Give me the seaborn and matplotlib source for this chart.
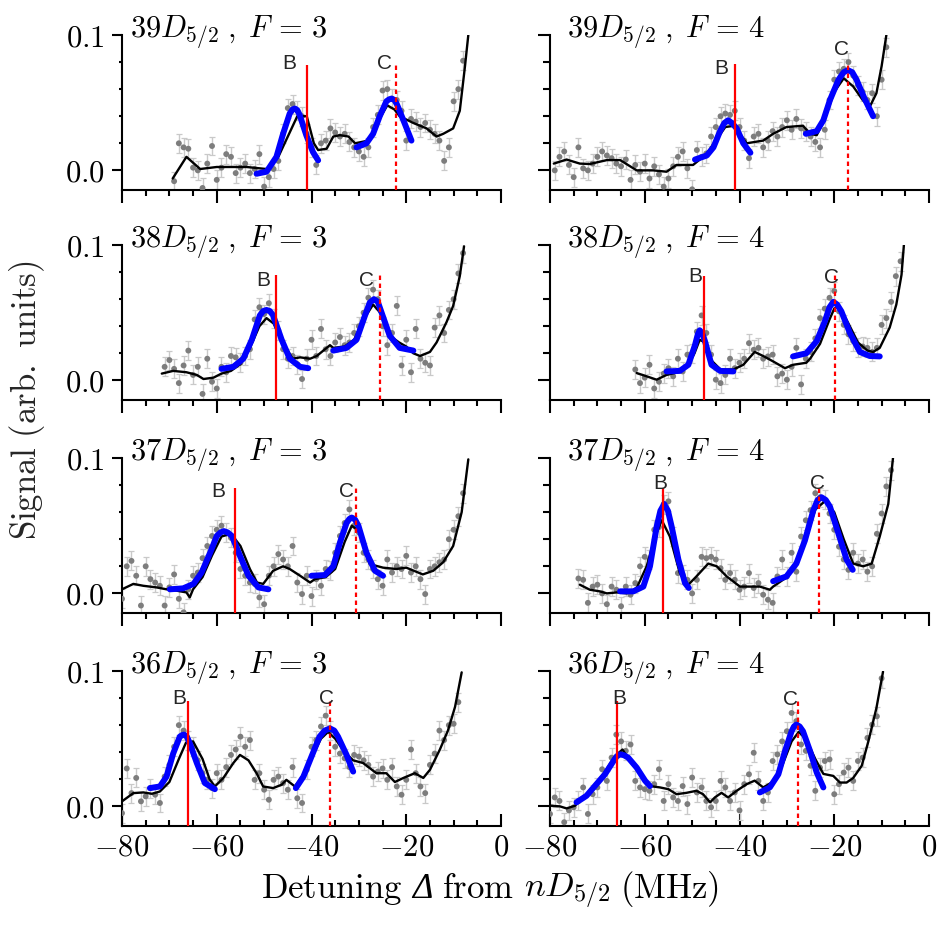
import matplotlib
matplotlib.use("Agg")
import matplotlib.pyplot as plt
import seaborn as sns
from matplotlib.ticker import MultipleLocator, FixedLocator, FuncFormatter
from matplotlib.offsetbox import TextArea, HPacker, AnnotationBbox

# ---------------- data ----------------
N_LEVELS = [39, 38, 37, 36]
F_LEVELS = [3, 4]

# 39D5/2 F=3
s39_3_x = [-69,-68,-67,-66,-65,-64,-63,-62,-61,-60,-59,-58,-57,-56,-55,-54,-53,-52,-51,-50,-49,-48,-47,-46,-45,-44,-43,-42,-41,-40,-39,-38,-37,-36,-35,-34,-33,-32,-31,-30,-29,-28,-27,-26,-25,-24,-23,-22,-21,-20,-19,-18,-17,-16,-15,-14,-13,-12,-11,-10,-9,-8]
s39_3_y = [-0.008,0.020,0.017,0.016,0.002,0.000,-0.013,0.005,0.018,-0.007,0.002,0.012,0.010,-0.002,0.002,0.005,-0.002,0.001,0.012,-0.012,-0.005,0.001,0.007,0.027,0.046,0.049,0.044,0.040,0.027,0.017,0.004,0.020,0.022,0.031,0.028,0.025,0.027,0.021,0.017,0.014,0.010,0.017,0.032,0.041,0.059,0.060,0.053,0.052,0.044,0.022,0.038,0.036,0.032,0.035,0.030,0.027,0.022,0.007,0.017,0.051,0.060,0.081]
l39_3_x = [-69.3,-66.4,-63.5,-60,-56.5,-53.7,-49.5,-47,-45,-43,-41,-39.5,-38.6,-36.8,-35.4,-34,-32.2,-30.8,-28,-26,-24,-22.5,-21.4,-18.5,-15.7,-13.6,-12.2,-10.1,-8.7,-7.6,-6.9]
l39_3_y = [-0.006,0.010,0.001,0.0025,0.0025,0.0025,0.001,0.010,0.025,0.040,0.040,0.020,0.015,0.016,0.025,0.026,0.025,0.020,0.022,0.036,0.048,0.045,0.040,0.035,0.031,0.025,0.027,0.031,0.044,0.077,0.100]
b39_3_x = [-51.6,-49.5,-47.4,-46.0,-44.6,-44.0,-43.5,-43.0,-42.5,-41.1,-39.7,-38.6]
b39_3_y = [-0.0025,-0.001,0.010,0.027,0.042,0.045,0.0457,0.0445,0.041,0.026,0.0136,0.0074]
c39_3_x = [-30.5,-28.4,-27.0,-25.6,-24.2,-23.6,-23.1,-22.5,-22.0,-20.6,-18.9]
c39_3_y = [0.017,0.020,0.027,0.040,0.051,0.0525,0.053,0.052,0.049,0.037,0.022]

# 39D5/2 F=4
s39_4_x = [-79,-78,-77,-76,-75,-74,-73,-72,-71,-70,-69,-68,-67,-66,-65,-64,-63,-62,-61,-60,-59,-58,-57,-56,-55,-54,-53,-52,-51,-50,-49,-48,-47,-46,-45,-44,-43,-42,-41,-40,-39,-38,-37,-36,-35,-34,-33,-32,-31,-30,-29,-28,-27,-26,-25,-24,-23,-22,-21,-20,-19,-18,-17,-16,-15,-14,-13,-12,-11,-10,-9]
s39_4_y = [0.0,0.010,0.014,0.004,-0.005,0.017,0.0015,0.0,0.005,0.010,0.014,0.011,0.009,0.005,0.003,0.008,-0.007,0.004,-0.001,0.005,-0.006,0.003,-0.003,-0.012,-0.006,0.003,0.010,0.014,0.0015,-0.014,0.015,0.010,0.0125,0.025,0.032,0.040,0.042,0.041,0.044,0.032,0.022,0.009,0.025,0.027,0.017,0.022,0.029,0.025,0.032,0.037,0.030,0.038,0.031,0.029,0.025,0.021,0.017,0.030,0.052,0.067,0.073,0.075,0.080,0.070,0.063,0.058,0.052,0.057,0.040,0.067,0.091]
l39_4_x = [-79.2,-76.5,-73.7,-71.6,-68.0,-65.2,-61.7,-58.2,-55.4,-53.3,-49.8,-47,-45,-43,-41,-39.5,-38.5,-35.0,-32.9,-30.1,-26.6,-25.1,-23.7,-22,-20,-18,-16,-14,-12.5,-11.1,-10.0,-9.0]
l39_4_y = [0.005,0.008,0.005,0.0047,0.0076,0.0076,0.0,0.0,-0.001,0.004,0.004,0.012,0.022,0.032,0.033,0.025,0.020,0.022,0.027,0.032,0.033,0.027,0.026,0.038,0.058,0.068,0.062,0.052,0.047,0.057,0.077,0.100]
b39_4_x = [-49.4,-46.9,-45.5,-44.1,-43.2,-42.4,-41.6,-40.6,-39.2,-37.7]
b39_4_y = [0.008,0.011,0.017,0.029,0.035,0.037,0.035,0.031,0.020,0.013]
c39_4_x = [-26.0,-23.7,-22.3,-20.9,-19.1,-18.0,-17.1,-16.2,-15.3,-13.6,-11.8]
c39_4_y = [0.027,0.029,0.037,0.052,0.067,0.0725,0.074,0.0725,0.067,0.053,0.040]

# 38D5/2 F=3
s38_3_x = [-71,-70,-69,-68,-67,-66,-65,-64,-63,-62,-61,-60,-59,-58,-57,-56,-55,-54,-53,-52,-51,-50,-49,-48,-47,-46,-45,-44,-43,-42,-41,-40,-39,-38,-37,-36,-35,-34,-33,-32,-31,-30,-29,-28,-27,-26,-25,-24,-23,-22,-21,-20,-19,-18,-17,-16,-15,-14,-13,-12,-11,-10,-9,-8]
s38_3_y = [0.010,0.015,0.0085,-0.002,0.011,0.022,0.004,0.010,-0.010,0.016,-0.001,-0.006,0.010,0.006,0.018,0.017,0.013,0.018,0.023,0.045,0.054,0.049,0.057,0.046,0.037,0.023,0.016,0.018,0.012,0.001,0.016,0.030,0.018,0.038,0.023,0.018,0.028,0.032,0.026,0.028,0.035,0.040,0.050,0.061,0.067,0.060,0.040,0.026,0.035,0.055,0.011,0.030,0.006,0.038,0.016,0.013,0.011,0.039,0.048,0.035,0.052,0.060,0.079,0.094]
l38_3_x = [-71.6,-69.2,-66.4,-64.2,-62.8,-60.7,-59.0,-57,-55,-53,-51,-49.5,-48,-46,-44,-42.4,-40.3,-38.9,-37.5,-36.1,-35.4,-33,-31,-29,-27,-25,-23.5,-21.5,-20,-18.5,-17.1,-15.0,-13.6,-11.5,-10.1,-8.7,-7.8]
l38_3_y = [0.005,0.007,0.006,0.004,0.001,0.002,0.005,0.007,0.012,0.024,0.040,0.046,0.042,0.028,0.016,0.017,0.016,0.018,0.022,0.026,0.024,0.025,0.030,0.045,0.056,0.048,0.033,0.028,0.025,0.020,0.018,0.021,0.028,0.043,0.055,0.077,0.099]
b38_3_x = [-59.0,-56.5,-54.4,-52.6,-50.9,-50.2,-49.5,-48.8,-48.1,-46.3,-44.6,-42.4,-40.7]
b38_3_y = [0.0085,0.010,0.016,0.030,0.048,0.0512,0.052,0.0512,0.048,0.030,0.016,0.010,0.009]
c38_3_x = [-35.4,-32.6,-30.5,-28.7,-27.7,-26.8,-26.0,-25.2,-23.5,-21.4,-18.5]
c38_3_y = [0.022,0.024,0.030,0.048,0.0575,0.060,0.058,0.050,0.033,0.024,0.022]

# 38D5/2 F=4
s38_4_x = [-62,-61,-60,-59,-58,-57,-56,-55,-54,-53,-52,-51,-50,-49,-48,-47,-46,-45,-44,-43,-42,-41,-40,-39,-38,-37,-36,-35,-34,-33,-32,-31,-30,-29,-28,-27,-26,-25,-24,-23,-22,-21,-20,-19,-18,-17,-16,-15,-14,-13,-12,-11,-10,-9,-8,-7,-6]
s38_4_y = [0.008,-0.002,0.002,0.0115,-0.006,-0.001,0.005,0.009,0.003,0.016,0.0066,0.019,0.020,0.036,0.048,0.035,0.019,0.0005,-0.002,0.004,0.016,0.009,0.013,0.016,0.0275,0.0226,0.024,0.016,0.0177,0.019,0.003,0.005,0.0005,0.010,0.024,-0.003,0.016,0.021,0.031,0.046,0.053,0.061,0.066,0.051,0.041,0.034,0.029,0.024,0.025,0.024,0.021,0.024,0.041,0.046,0.058,0.077,0.088]
l38_4_x = [-61.7,-59.6,-57.5,-55.4,-53,-51,-49.5,-48.4,-47.3,-46,-44,-41.3,-39.2,-36.8,-35.0,-32.9,-30.4,-28.7,-25.9,-25.1,-23,-21,-20,-19,-17,-15,-13,-11.8,-10.4,-8.3,-6.9,-5.8,-5.3]
l38_4_y = [0.0054,0.003,0.0005,0.004,0.006,0.010,0.020,0.030,0.028,0.015,0.008,0.008,0.0115,0.021,0.018,0.014,0.009,0.0115,0.013,0.016,0.027,0.045,0.053,0.055,0.042,0.028,0.022,0.021,0.024,0.039,0.056,0.078,0.100]
b38_4_x = [-55.4,-52.6,-50.8,-49.4,-48.8,-48.4,-47.9,-47.3,-45.9,-44.1,-41.3]
b38_4_y = [0.0066,0.007,0.0115,0.026,0.034,0.037,0.035,0.029,0.0115,0.007,0.0066]
c38_4_x = [-28.7,-25.9,-23.7,-22.0,-21.0,-20.2,-19.4,-18.5,-16.7,-14.6,-12.5,-10.4]
c38_4_y = [0.0177,0.020,0.029,0.0435,0.054,0.058,0.056,0.051,0.035,0.021,0.018,0.0177]

# 37D5/2 F=3
s37_3_x = [-80,-79,-78,-77,-76,-75,-74,-73,-72,-71,-70,-69,-68,-67,-66,-65,-64,-63,-62,-61,-60,-59,-58,-57,-56,-55,-54,-53,-52,-51,-50,-49,-48,-47,-46,-45,-44,-43,-42,-41,-40,-39,-38,-37,-36,-35,-34,-33,-32,-31,-30,-29,-28,-27,-26,-25,-24,-23,-22,-21,-20,-19,-18,-17,-16,-15,-14,-13,-12,-11,-10,-9,-8]
s37_3_y = [-0.004,0.020,0.024,0.013,-0.009,0.020,0.0105,0.008,0.0056,-0.009,0.0044,0.014,-0.004,-0.014,0.003,0.013,0.0154,0.026,0.035,0.0424,0.047,0.050,0.045,0.041,0.030,0.018,0.013,0.008,0.007,-0.003,-0.008,0.013,0.020,0.029,0.025,0.020,0.035,0.008,-0.0005,0.013,-0.002,0.0105,0.0056,0.018,0.0167,0.030,0.0424,0.052,0.062,0.050,0.045,0.030,0.025,0.018,0.0105,0.0056,0.025,0.0154,0.020,0.018,0.0277,0.0154,0.020,0.0105,-0.0005,0.018,0.020,0.023,0.025,0.040,0.047,0.057,0.074]
l37_3_x = [-80,-77.6,-75.5,-72.7,-70.6,-68.5,-66.4,-65.7,-65.0,-63,-61,-59,-57,-55,-53,-51.5,-50.2,-48.1,-46.0,-44.6,-42.4,-40.3,-39.3,-37,-35,-33,-31.5,-30,-28.5,-27.7,-24.9,-22.1,-20.0,-16.5,-14.3,-12.2,-10.1,-8.3,-6.9]
l37_3_y = [0.003,0.007,0.0056,0.0044,0.003,0.002,0.0007,-0.003,0.003,0.012,0.028,0.042,0.044,0.035,0.018,0.008,0.007,0.0167,0.020,0.018,0.013,0.008,0.0105,0.012,0.018,0.038,0.050,0.046,0.030,0.0216,0.019,0.018,0.019,0.014,0.0167,0.023,0.035,0.060,0.099]
b37_3_x = [-69.9,-67.1,-64.9,-63.2,-61.4,-60.0,-59.2,-58.5,-57.7,-56.8,-55.1,-53.3,-51.2,-49.1]
b37_3_y = [0.003,0.0037,0.007,0.0154,0.030,0.0424,0.045,0.046,0.045,0.0424,0.0277,0.013,0.0044,0.003]
c37_3_x = [-40.0,-37.2,-35.4,-34.0,-32.6,-32.0,-31.5,-30.8,-30.1,-28.4,-26.6,-24.9]
c37_3_y = [0.013,0.0135,0.020,0.0375,0.052,0.055,0.056,0.0545,0.050,0.030,0.0167,0.013]

# 37D5/2 F=4
s37_4_x = [-74,-73,-72,-71,-70,-69,-68,-67,-66,-65,-64,-63,-62,-61,-60,-59,-58,-57,-56,-55,-54,-53,-52,-51,-50,-49,-48,-47,-46,-45,-44,-43,-42,-41,-40,-39,-38,-37,-36,-35,-34,-33,-32,-31,-30,-29,-28,-27,-26,-25,-24,-23,-22,-21,-20,-19,-18,-17,-16,-15,-14,-13,-12,-11,-10,-9,-8]
s37_4_y = [0.011,0.010,-0.007,0.005,0.0064,0.0,-0.008,0.005,0.0027,-0.0095,0.005,-0.001,0.0076,0.020,0.027,0.025,0.047,0.049,0.066,0.068,0.042,0.015,0.0137,0.010,0.0,0.010,0.027,0.026,0.027,0.025,0.0186,0.010,0.015,0.010,0.0027,0.005,0.015,0.004,0.0076,-0.001,-0.0047,-0.007,0.0125,0.025,0.0125,0.030,0.016,0.042,0.054,0.0615,0.074,0.071,0.069,0.059,0.047,0.0345,0.025,0.0174,0.030,0.022,0.025,0.016,0.020,0.044,0.059,0.079,0.091]
l37_4_x = [-73.7,-71.6,-69.5,-68.0,-65.9,-63.8,-61.7,-59.6,-57.8,-56.4,-54.7,-52.6,-50.8,-49.1,-46.6,-44.8,-42.7,-39.9,-37.8,-35.7,-33.6,-32.9,-30,-28,-26,-24,-22,-20,-18,-16.0,-13.9,-12.1,-10.4,-8.6,-7.6]
l37_4_y = [0.0064,0.0027,0.0015,0.0,0.0007,0.0,0.004,0.020,0.042,0.054,0.042,0.015,0.0064,0.0125,0.022,0.020,0.0125,0.005,0.005,0.005,0.0027,0.005,0.012,0.022,0.040,0.062,0.068,0.060,0.040,0.022,0.020,0.022,0.042,0.066,0.100]
b37_4_x = [-65.2,-62.4,-60.3,-58.9,-57.5,-56.7,-55.9,-55.1,-54.3,-52.9,-51.5,-50.7]
b37_4_y = [0.0015,0.0015,0.005,0.020,0.049,0.061,0.066,0.061,0.049,0.025,0.0076,0.004]
c37_4_x = [-32.9,-30.1,-28.0,-26.2,-24.4,-23.5,-22.7,-21.8,-20.9,-19.1,-17.4,-16.1]
c37_4_y = [0.009,0.0125,0.022,0.039,0.0615,0.069,0.071,0.069,0.064,0.044,0.025,0.0174]

# 36D5/2 F=3
s36_3_x = [-80,-79,-78,-77,-76,-75,-74,-73,-72,-71,-70,-69,-68,-67,-66,-65,-64,-63,-62,-61,-60,-59,-58,-57,-56,-55,-54,-53,-52,-51,-50,-49,-48,-47,-46,-45,-44,-43,-42,-41,-40,-39,-38,-37,-36,-35,-34,-33,-32,-31,-30,-29,-28,-27,-26,-25,-24,-23,-22,-21,-20,-19,-18,-17,-16,-15,-14,-13,-12,-11,-10,-9]
s36_3_y = [-0.005,0.028,0.0098,0.021,0.0037,0.0074,0.0135,0.0086,0.0025,0.022,0.0306,0.044,0.060,0.056,0.049,0.044,0.034,0.0245,0.0196,0.0135,0.0245,0.0196,0.029,0.038,0.042,0.0515,0.044,0.049,0.0196,0.0245,0.0123,0.0049,0.0196,0.022,0.0172,0.0123,0.029,0.006,0.0025,0.027,0.044,0.049,0.059,0.067,0.056,0.044,0.039,0.0355,0.029,0.038,0.0368,0.034,0.0306,0.022,0.0257,0.028,0.0196,0.029,0.0147,0.0086,0.0196,0.042,0.0245,0.0147,0.0098,0.0306,0.039,0.056,0.049,0.060,0.061,0.077]
l36_3_x = [-80,-77.6,-75.5,-73.7,-72,-70,-68,-66.5,-65,-63,-61.5,-60.4,-58.6,-56.5,-55.1,-53.3,-51.6,-50.2,-48.1,-46.3,-45.3,-43.5,-42,-40,-38,-36.5,-35,-33,-31.2,-29.1,-26.3,-24.2,-22.4,-20.6,-18.2,-16.4,-15.0,-12.9,-11.2,-9.7,-8.3]
l36_3_y = [0.0037,0.0098,0.0103,0.0093,0.011,0.018,0.035,0.047,0.048,0.035,0.020,0.0147,0.021,0.032,0.038,0.034,0.0245,0.0147,0.0135,0.016,0.0196,0.0147,0.022,0.036,0.050,0.055,0.050,0.040,0.034,0.032,0.0245,0.0245,0.018,0.021,0.0245,0.021,0.027,0.042,0.056,0.0735,0.099]
b36_3_x = [-74.1,-72.0,-70.6,-69.2,-67.8,-67.3,-66.9,-66.3,-65.7,-64.2,-62.5,-60.4]
b36_3_y = [0.0135,0.0147,0.022,0.039,0.0515,0.0527,0.053,0.0515,0.0466,0.032,0.0172,0.0127]
c36_3_x = [-43.3,-41.7,-40.0,-38.3,-37.2,-36.1,-35.2,-34.4,-32.6,-31.2]
c36_3_y = [0.0135,0.022,0.0368,0.0515,0.056,0.0576,0.056,0.0515,0.038,0.0257]

# 36D5/2 F=4
s36_4_x = [-80,-79,-78,-77,-76,-75,-74,-73,-72,-71,-70,-69,-68,-67,-66,-65,-64,-63,-62,-61,-60,-59,-58,-57,-56,-55,-54,-53,-52,-51,-50,-49,-48,-47,-46,-45,-44,-43,-42,-41,-40,-39,-38,-37,-36,-35,-34,-33,-32,-31,-30,-29,-28,-27,-26,-25,-24,-23,-22,-21,-20,-19,-18,-17,-16,-15,-14,-13,-12,-11,-10]
s36_4_y = [-0.0056,0.0066,0.004,-0.0117,-0.003,-0.0007,0.004,0.014,-0.0056,0.009,0.014,0.0274,0.0188,0.036,0.053,0.048,0.041,0.0457,0.0188,0.014,0.0127,0.0115,0.0164,0.0274,0.004,0.0164,0.0066,0.004,0.015,0.0017,0.0213,0.0103,0.014,0.004,-0.0007,0.004,0.0188,0.014,0.004,0.0103,-0.003,0.0164,0.0237,0.0396,0.0188,0.004,0.0103,0.0335,0.0384,0.048,0.0555,0.069,0.063,0.0457,0.041,0.030,0.0115,0.0286,0.0335,0.0347,0.009,0.0164,0.025,0.0286,0.0188,0.0335,0.036,0.0506,0.0604,0.0665,0.0946]
l36_4_x = [-80,-77.9,-76.5,-74.7,-71.6,-68.7,-66.3,-64.7,-63.1,-61.0,-58.9,-56.8,-55.0,-53.3,-51.2,-49.1,-47.7,-46.2,-45.2,-43.8,-42.4,-40.6,-38.5,-36.8,-35.0,-33,-31,-29,-27.5,-26,-24,-22.3,-20.2,-18.8,-17.4,-16.0,-14.2,-12.8,-11.1,-9.7]
l36_4_y = [0.0005,0.0,-0.0015,0.0005,0.0115,0.024,0.037,0.042,0.0335,0.024,0.015,0.014,0.0127,0.009,0.010,0.0115,0.009,0.003,0.0066,0.010,0.0066,0.0115,0.0164,0.019,0.014,0.018,0.030,0.048,0.055,0.050,0.035,0.024,0.0225,0.0176,0.0176,0.021,0.030,0.048,0.0726,0.0995]
b36_4_x = [-74.4,-72.3,-70.2,-68.4,-66.6,-65.9,-65.2,-64.4,-63.5,-61.7,-59.9,-58.9]
b36_4_y = [0.003,0.0078,0.0164,0.0237,0.0335,0.037,0.0384,0.0378,0.036,0.0286,0.0188,0.015]
c36_4_x = [-35.7,-33.6,-31.8,-30.4,-29.0,-28.5,-28.0,-27.3,-26.6,-25.1,-23.7,-22.3]
c36_4_y = [0.0103,0.014,0.0237,0.0408,0.0555,0.059,0.0604,0.059,0.0555,0.0408,0.025,0.014]

# positions of the B (solid) and C (dashed) markers, per panel (row-major)
B_LINE = [-41.0, -41.0, -47.4, -47.5, -56.2, -56.2, -66.0, -65.9]
C_LINE = [-22.1, -17.2, -25.6, -19.9, -30.6, -23.2, -36.1, -27.6]
B_TOP = [0.078, 0.0786, 0.078, 0.077, 0.078, 0.0775, 0.078, 0.0775]
C_TOP = [0.078, 0.079, 0.079, 0.080, 0.080, 0.080, 0.080, 0.0795]
ERR = 0.007

SCAT = [(s39_3_x, s39_3_y), (s39_4_x, s39_4_y), (s38_3_x, s38_3_y), (s38_4_x, s38_4_y),
        (s37_3_x, s37_3_y), (s37_4_x, s37_4_y), (s36_3_x, s36_3_y), (s36_4_x, s36_4_y)]
SMOOTH = [(l39_3_x, l39_3_y), (l39_4_x, l39_4_y), (l38_3_x, l38_3_y), (l38_4_x, l38_4_y),
          (l37_3_x, l37_3_y), (l37_4_x, l37_4_y), (l36_3_x, l36_3_y), (l36_4_x, l36_4_y)]
FIT_B = [(b39_3_x, b39_3_y), (b39_4_x, b39_4_y), (b38_3_x, b38_3_y), (b38_4_x, b38_4_y),
         (b37_3_x, b37_3_y), (b37_4_x, b37_4_y), (b36_3_x, b36_3_y), (b36_4_x, b36_4_y)]
FIT_C = [(c39_3_x, c39_3_y), (c39_4_x, c39_4_y), (c38_3_x, c38_3_y), (c38_4_x, c38_4_y),
         (c37_3_x, c37_3_y), (c37_4_x, c37_4_y), (c36_3_x, c36_3_y), (c36_4_x, c36_4_y)]

# label placement (x, y) for "B" and "C"
LAB_B = [(-44.6, 0.079), (-43.8, 0.075), (-50.2, 0.074), (-49.4, 0.077),
         (-59.7, 0.0755), (-56.8, 0.0815), (-67.9, 0.080), (-65.4, 0.0795)]
LAB_C = [(-24.5, 0.079), (-18.5, 0.089), (-28.4, 0.074), (-20.6, 0.076),
         (-32.6, 0.0755), (-23.6, 0.0815), (-36.8, 0.080), (-29.2, 0.079)]

# ---------------- figure ----------------
sns.set_theme(style="ticks")
plt.rcParams.update({
    "font.family": ["DejaVu Sans"],
    "mathtext.fontset": "cm",
    "axes.linewidth": 1.5,
    "axes.edgecolor": "black",
    "xtick.color": "black",
    "ytick.color": "black",
})

W, H = 946, 926
fig = plt.figure(figsize=(W / 100, H / 100), dpi=100)
YMIN, YMAX = -0.0145, 0.1
col_left = [122, 550]
row_top = [35, 245, 458, 671]
ax_w, ax_h = 379, 155

mfmt_x = FuncFormatter(lambda v, p: r"$%d$" % v)
mfmt_y = FuncFormatter(lambda v, p: r"$%.1f$" % v)

for r in range(4):
    for c in range(2):
        k = 2 * r + c
        ax = fig.add_axes([col_left[c] / W, 1 - (row_top[r] + ax_h) / H, ax_w / W, ax_h / H])
        sx, sy = SCAT[k]
        ax.errorbar(sx, sy, yerr=ERR, fmt="none", ecolor="#c9c9c9", elinewidth=1.0,
                    capsize=2, capthick=0.9, zorder=2)
        sns.scatterplot(x=sx, y=sy, ax=ax, color="#7d7d7d", s=18, edgecolor="none",
                        linewidth=0, zorder=3)
        lx, ly = SMOOTH[k]
        sns.lineplot(x=lx, y=ly, ax=ax, color="black", lw=1.7, sort=False,
                     estimator=None, zorder=4)
        for fx, fy in (FIT_B[k], FIT_C[k]):
            sns.lineplot(x=fx, y=fy, ax=ax, color="#0000ff", lw=4.3, sort=False,
                         estimator=None, zorder=5, solid_capstyle="round",
                         solid_joinstyle="round")
        ax.vlines(B_LINE[k], YMIN, B_TOP[k], colors="#ff0000", lw=1.6, zorder=6)
        ax.vlines(C_LINE[k], YMIN, C_TOP[k], colors="#ff0000", lw=1.6,
                  linestyles=(0, (2.0, 1.6)), zorder=6)
        ax.text(*LAB_B[k], "B", ha="center", va="center", fontsize=15,
                family="Liberation Sans", zorder=7)
        ax.text(*LAB_C[k], "C", ha="center", va="center", fontsize=15,
                family="Liberation Sans", zorder=7)

        ax.set_xlim(-80, 0)
        ax.set_ylim(YMIN, YMAX)
        sns.despine(ax=ax)
        ax.xaxis.set_major_locator(MultipleLocator(20))
        ax.xaxis.set_minor_locator(MultipleLocator(5))
        ax.yaxis.set_major_locator(FixedLocator([0.0, 0.1]))
        ax.yaxis.set_minor_locator(FixedLocator([0.02, 0.04, 0.06, 0.08]))
        ax.xaxis.set_major_formatter(mfmt_x)
        ax.yaxis.set_major_formatter(mfmt_y)
        xdir = "in" if r == 3 else "out"
        ax.tick_params(axis="x", which="major", direction=xdir, length=9, width=1.5,
                       labelsize=22, pad=5, labelbottom=(r == 3))
        ax.tick_params(axis="x", which="minor", direction=xdir, length=4.5, width=1.5)
        if c == 0:
            ax.tick_params(axis="y", which="major", direction="out", length=7.5, width=1.5,
                           labelsize=22, pad=5, labelleft=True)
            ax.tick_params(axis="y", which="minor", direction="out", length=2.5, width=1.5)
        else:
            ax.tick_params(axis="y", which="major", direction="out", length=9, width=1.5,
                           labelleft=False)
            ax.tick_params(axis="y", which="minor", direction="out", length=5, width=1.5)
        ax.set_xlabel("")
        ax.set_ylabel("")
        ax.grid(False)
        title = r"$%dD_{5/2}\;,\;F\,{=}\,%d$" % (N_LEVELS[r], F_LEVELS[c])
        tx = 0.022 if c == 0 else 0.045
        ax.text(tx, 0.985, title, transform=ax.transAxes, ha="left", va="baseline",
                fontsize=22, color="black", clip_on=False, zorder=8)

# x label assembled from pieces so that Delta can be italic
XL_FS = 25
cm_props = dict(fontsize=XL_FS, math_fontfamily="cm", color="black")
it_props = dict(fontsize=XL_FS, family="Liberation Serif", style="italic", color="black")
pieces = [
    TextArea(r"$\mathrm{Detuning}$", textprops=cm_props),
    TextArea("\u0394", textprops=it_props),
    TextArea(r"$\mathrm{from}$", textprops=cm_props),
    TextArea(r"$nD_{5/2}$", textprops=cm_props),
    TextArea(r"$\mathrm{(MHz)}$", textprops=cm_props),
]
pack = HPacker(children=pieces, align="baseline", pad=0, sep=7)
ab = AnnotationBbox(pack, (490 / W, 1 - 890 / H), xycoords="figure fraction",
                    frameon=False, box_alignment=(0.5, 0.5), pad=0)
fig.add_artist(ab)

fig.text(27 / W, 1 - 400 / H, r"$\mathrm{Signal\ (arb.\ units)}$",
         ha="center", va="center", rotation=90, fontsize=25)

fig.savefig("out.png", dpi=100)
